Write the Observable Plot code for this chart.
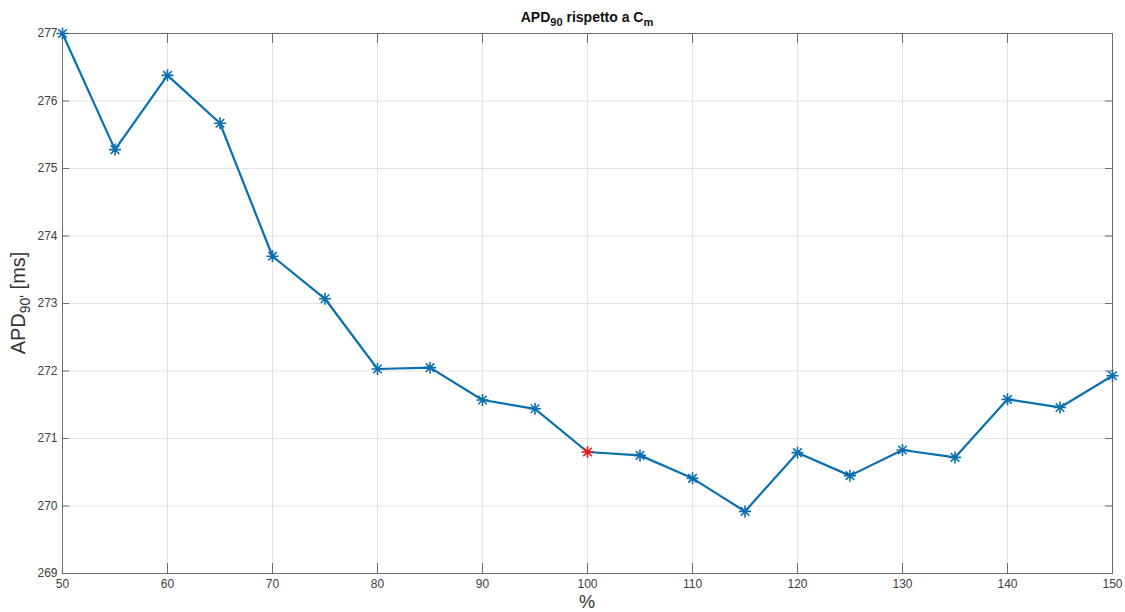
<!DOCTYPE html>
<html>
<head>
<meta charset="utf-8">
<script src="https://cdn.jsdelivr.net/npm/d3@7"></script>
<script src="https://cdn.jsdelivr.net/npm/@observablehq/plot@0.6"></script>
<style>
  html, body { margin: 0; padding: 0; background: #fff; }
  #chart svg { display: block; }
</style>
</head>
<body>
<div id="chart"></div>
<script>
// Membrane capacitance scaling (% of control) and resulting APD90 (ms)
const cmPercent = [50, 55, 60, 65, 70, 75, 80, 85, 90, 95, 100, 105, 110, 115, 120, 125, 130, 135, 140, 145, 150];
const apd90 = [277.0, 275.28, 276.38, 275.67, 273.70, 273.07, 272.03, 272.05, 271.57, 271.44, 270.80, 270.75, 270.41, 269.92, 270.79, 270.45, 270.83, 270.72, 271.58, 271.46, 271.93];
const controlPercent = 100;

const xTicks = [50, 60, 70, 80, 90, 100, 110, 120, 130, 140, 150];
const yTicks = [269, 270, 271, 272, 273, 274, 275, 276, 277];

const data = cmPercent.map((x, i) => ({x, y: apd90[i]}));
const control = data.filter(d => d.x === controlPercent);
const others = data.filter(d => d.x !== controlPercent);

// MATLAB-style '*' marker: a plus and a cross overlaid
const star = {
  draw(ctx, size) {
    const r = Math.sqrt(size / Math.PI);
    const d = r * Math.SQRT1_2;
    ctx.moveTo(-r, 0); ctx.lineTo(r, 0);
    ctx.moveTo(0, -r); ctx.lineTo(0, r);
    ctx.moveTo(-d, -d); ctx.lineTo(d, d);
    ctx.moveTo(-d, d); ctx.lineTo(d, -d);
  }
};

const W = 1125, H = 612;
const M = {top: 33, right: 13, bottom: 39, left: 62};
const frameH = H - M.top - M.bottom;
const frameW = W - M.left - M.right;
const axisColor = "#6e6e6e";
const blue = "#0a6fae";

const plot = Plot.plot({
  width: W,
  height: H,
  marginTop: M.top,
  marginRight: M.right,
  marginBottom: M.bottom,
  marginLeft: M.left,
  style: {fontFamily: "'Liberation Sans', Arial, Helvetica, sans-serif", background: "#fff"},
  x: {domain: [50, 150], ticks: xTicks, label: null},
  y: {domain: [269, 277], ticks: yTicks, label: null},
  marks: [
    // grid
    Plot.ruleX(xTicks, {stroke: "#e3e3e3", strokeWidth: 1}),
    Plot.ruleY(yTicks, {stroke: "#e3e3e3", strokeWidth: 1}),
    // inward tick marks on all four sides
    Plot.ruleX(xTicks, {stroke: axisColor, insetTop: frameH - 10}),
    Plot.ruleX(xTicks, {stroke: axisColor, insetBottom: frameH - 10}),
    Plot.ruleY(yTicks, {stroke: axisColor, insetRight: frameW - 7}),
    Plot.ruleY(yTicks, {stroke: axisColor, insetLeft: frameW - 7}),
    Plot.frame({stroke: axisColor, strokeWidth: 1}),
    Plot.axisX(xTicks, {tickSize: 0, tickPadding: 6, fontSize: 12, color: "#404040", label: null, tickFormat: "d"}),
    Plot.axisY(yTicks, {tickSize: 0, tickPadding: 5, fontSize: 12, color: "#404040", label: null, tickFormat: "d"}),
    // series
    Plot.line(data, {x: "x", y: "y", stroke: blue, strokeWidth: 2.2}),
    Plot.dot(others, {x: "x", y: "y", symbol: star, r: 6, stroke: blue, strokeWidth: 1.6, fill: "none"}),
    Plot.dot(control, {x: "x", y: "y", symbol: star, r: 6, stroke: "#e8131a", strokeWidth: 1.6, fill: "none"})
  ]
});

document.getElementById("chart").appendChild(plot);

// Title and axis labels with subscripts
const svg = d3.select(plot);
const font = "'Liberation Sans', Arial, Helvetica, sans-serif";

const title = svg.append("text")
  .attr("x", M.left + frameW / 2)
  .attr("y", 22)
  .attr("text-anchor", "middle")
  .attr("font-family", font)
  .attr("font-size", 14)
  .attr("font-weight", "bold")
  .attr("fill", "#111");
title.append("tspan").text("APD");
title.append("tspan").attr("font-size", 11).attr("dy", 4).text("90");
title.append("tspan").attr("dy", -4).text(" rispetto a C");
title.append("tspan").attr("font-size", 11).attr("dy", 4).text("m");

svg.append("text")
  .attr("x", M.left + frameW / 2)
  .attr("y", 608)
  .attr("text-anchor", "middle")
  .attr("font-family", font)
  .attr("font-size", 18)
  .attr("fill", "#333")
  .text("%");

const ylab = svg.append("text")
  .attr("transform", `translate(25,${M.top + frameH / 2}) rotate(-90)`)
  .attr("text-anchor", "middle")
  .attr("font-family", font)
  .attr("font-size", 20)
  .attr("fill", "#333");
ylab.append("tspan").text("APD");
ylab.append("tspan").attr("font-size", 14).attr("dy", 5).text("90'");
ylab.append("tspan").attr("font-size", 20).attr("dy", -5).text(" [ms]");
</script>
</body>
</html>
